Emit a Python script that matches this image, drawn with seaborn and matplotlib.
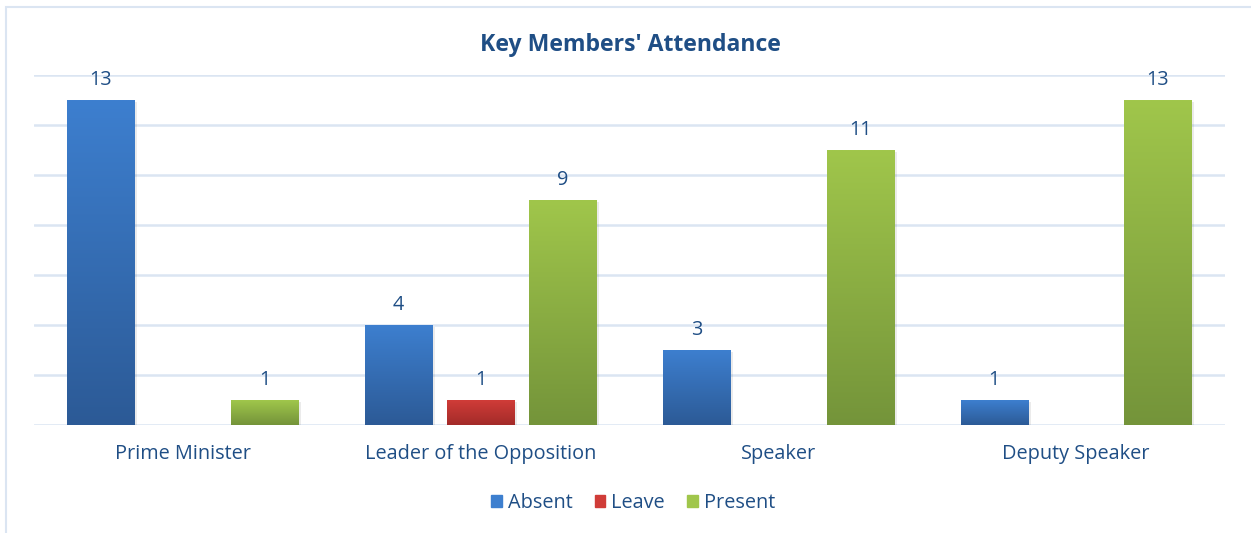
#!/usr/bin/env python3
# Grouped bar chart: key members' attendance by status

import numpy as np
import pandas as pd
import seaborn as sns
from matplotlib import pyplot as plt
from matplotlib import patches as mpatches
from matplotlib import patheffects as pe
from matplotlib.colors import LinearSegmentedColormap

# -------------------------------------------------------------------
# DATA
# -------------------------------------------------------------------
members = ["Prime Minister", "Leader of the Opposition", "Speaker", "Deputy Speaker"]
statuses = ["Absent", "Leave", "Present"]
absent = [13, 4, 3, 1]
leave = [0, 1, 0, 0]
present = [1, 9, 11, 13]
y_ticks = [0, 2, 4, 6, 8, 10, 12, 14]

# gradient (top, bottom) per series
grad = {
    "Absent": ("#3d7fcf", "#2c5a96"),
    "Leave": ("#d03c38", "#a32b29"),
    "Present": ("#a0c64b", "#74943a"),
}
text_color = "#1f4e85"
grid_color = "#dbe5f2"
fsize = 14.3

df = pd.DataFrame({
    "Member": members * 3,
    "Status": [s for s in statuses for _ in members],
    "Count": absent + leave + present,
})

# -------------------------------------------------------------------
# PLOT
# -------------------------------------------------------------------
sns.set_theme(style="white")
plt.rcParams["font.family"] = ["Open Sans", "DejaVu Sans"]

fig = plt.figure(figsize=(12.51, 5.33), dpi=100)
ax = fig.add_axes([34 / 1251, 108 / 533, 1191 / 1251, 350 / 533])

palette = {s: grad[s][0] for s in statuses}
sns.barplot(
    data=df, x="Member", y="Count", hue="Status", order=members,
    hue_order=statuses, palette=palette, width=0.825, gap=0.18,
    ax=ax, legend=False, saturation=1, edgecolor="none",
)

ax.set_yticks(y_ticks)
ax.set_yticklabels([])
ax.tick_params(axis="y", length=0)
ax.tick_params(axis="x", length=0, labelsize=fsize, labelcolor=text_color, pad=14)
ax.grid(axis="y", color=grid_color, linewidth=1.8)
ax.set_axisbelow(True)
for sp in ax.spines.values():
    sp.set_visible(False)
ax.set_xlabel("")
ax.set_ylabel("")

# gradient fill + value labels for each bar
for container, status in zip(ax.containers, statuses):
    top, bottom = grad[status]
    cmap = LinearSegmentedColormap.from_list(status, [bottom, top])
    for bar in container:
        h = bar.get_height()
        if h <= 0:
            bar.set_visible(False)
            continue
        x0, w = bar.get_x(), bar.get_width()
        bar.set_path_effects([
            pe.SimplePatchShadow(offset=(2, -1.5), alpha=0.08, shadow_rgbFace="black"),
            pe.Normal(),
        ])
        img = ax.imshow(
            np.linspace(0, 1, 256).reshape(-1, 1), cmap=cmap, origin="lower",
            extent=(x0, x0 + w, 0, h), aspect="auto", zorder=bar.get_zorder() + 0.1,
        )
        img.set_clip_path(bar)
        ax.text(x0 + w / 2, h + 0.4, f"{int(h)}", ha="center", va="bottom",
                fontsize=fsize, color=text_color)

ax.set_xlim(-0.5, len(members) - 0.5)
ax.set_ylim(0, 14)

fig.text(0.504, 1 - 45 / 533, "Key Members' Attendance", ha="center", va="center",
         fontsize=16.6, fontweight="bold", color=text_color)

handles = [mpatches.Patch(color=grad[s][0]) for s in statuses]
fig.legend(handles, statuses, loc="center", bbox_to_anchor=(0.506, 1 - 503 / 533),
           ncol=3, frameon=False, fontsize=fsize, labelcolor=text_color,
           handlelength=0.55, handleheight=0.55, handletextpad=0.3, columnspacing=1.1)

# outer chart border
fig.patches.append(mpatches.Rectangle((6 / 1251, -0.1), 1.1, 1 - 7 / 533 + 0.1,
                                      transform=fig.transFigure, fill=False,
                                      edgecolor=grid_color, linewidth=1.5))

fig.savefig("out.png", dpi=100)
